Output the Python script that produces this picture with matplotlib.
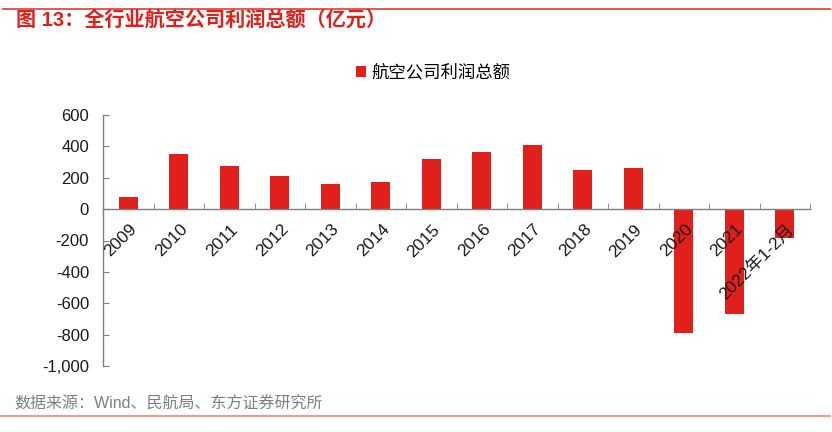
import matplotlib
matplotlib.use("Agg")
import matplotlib.pyplot as plt
import matplotlib.transforms as mtransforms
from matplotlib.lines import Line2D
import numpy as np

plt.rcParams['font.family'] = ['Liberation Sans', 'Noto Sans CJK SC', 'DejaVu Sans']

categories = ['2009', '2010', '2011', '2012', '2013', '2014', '2015', '2016',
              '2017', '2018', '2019', '2020', '2021', '2022年1-2月']
profits = [75, 353, 278, 212, 163, 176, 322, 366, 411, 251, 262, -792, -671, -184]
series_name = '航空公司利润总额'
yticks = [600, 400, 200, 0, -200, -400, -600, -800, -1000]
ytick_labels = ['600', '400', '200', '0', '-200', '-400', '-600', '-800', '-1,000']

title = '图 13：全行业航空公司利润总额（亿元）'
source = '数据来源：Wind、民航局、东方证券研究所'

RED = '#E2201B'
GRAY = '#7F7F7F'

fig = plt.figure(figsize=(8.32, 4.32), dpi=100)
ax = fig.add_axes([103 / 832, 1 - 366 / 432, (810 - 103) / 832, (366 - 115) / 432])
ax.set_axisbelow(False)

x = np.arange(len(categories))
ax.bar(x, profits, width=0.37, color=RED, label=series_name, zorder=1)

ax.set_xlim(-0.5, len(categories) - 0.5)
ax.set_ylim(-1000, 600)
ax.set_yticks(yticks)
ax.set_yticklabels(ytick_labels, fontsize=12, color='#1a1a1a')

for s in ['top', 'right']:
    ax.spines[s].set_visible(False)
ax.spines['bottom'].set_position(('data', 0))
ax.spines['bottom'].set_color(GRAY)
ax.spines['left'].set_color(GRAY)
ax.spines['bottom'].set_linewidth(1.0)
ax.spines['left'].set_linewidth(1.0)
ax.spines['bottom'].set_zorder(3)

ax.tick_params(axis='y', direction='in', length=4, color=GRAY, pad=10)
ax.set_xticks(np.arange(-0.5, len(categories), 1.0), minor=True)
ax.set_xticks(x)
ax.set_xticklabels(categories, fontsize=12.5, rotation=45, ha='right', va='top',
                   rotation_mode='anchor', color='#1a1a1a')
ax.tick_params(axis='x', which='major', length=0, pad=9)
ax.tick_params(axis='x', which='minor', direction='in', length=4, color=GRAY)

offset = mtransforms.ScaledTranslation(1 / 100, 0, fig.dpi_scale_trans)
for lab in ax.get_xticklabels():
    lab.set_transform(lab.get_transform() + offset)

leg = ax.legend(loc='center', bbox_to_anchor=(433 / 832, 1 - 72 / 432),
                bbox_transform=fig.transFigure, frameon=False, fontsize=12.5,
                handlelength=0.6, handleheight=0.6, handletextpad=0.3)

# Title and decorations
fig.text(16 / 832, 1 - 20 / 432, title, fontsize=14.5, color=RED, fontweight='bold',
         ha='left', va='center')
fig.add_artist(Line2D([3 / 832, 830 / 832], [1 - 9 / 432, 1 - 9 / 432],
                      transform=fig.transFigure, color='#E03C31', linewidth=1.2))
fig.text(14 / 832, 1 - 404 / 432, source, fontsize=11.5, color=GRAY,
         ha='left', va='center')
fig.add_artist(Line2D([0 / 832, 830 / 832], [1 - 416 / 432, 1 - 416 / 432],
                      transform=fig.transFigure, color='#EE9A93', linewidth=1.5))

fig.savefig('out.png', dpi=100)
